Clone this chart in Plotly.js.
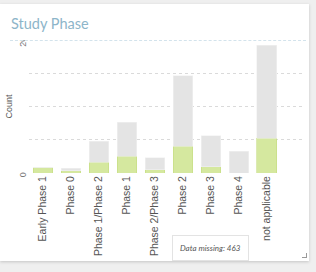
<!DOCTYPE html>
<html>
<head>
<meta charset="utf-8">
<script src="https://cdn.plot.ly/plotly-3.0.1.min.js"></script>
<style>
  html, body { margin: 0; padding: 0; width: 316px; height: 272px; background: #efefef; overflow: hidden; }
  #card { position: absolute; left: 0; top: 4px; width: 309px; height: 257px; background: #fff;
          box-shadow: 0 1px 3px rgba(0,0,0,0.18); }
  #title { position: absolute; left: 11px; top: 11px; font-family: Lato, "Open Sans", sans-serif;
           font-size: 14.5px; color: #8db5c9; }
  #sep { position: absolute; left: 10px; top: 36px; width: 296px; border-top: 1px dashed #d3e3ec; z-index: 2; }
  #clip { position: absolute; left: 0; top: 36px; width: 309px; height: 221px; overflow: hidden; }
  #chart { position: absolute; left: 0; top: -10px; width: 309px; height: 231px; }
  #grip { position: absolute; right: 2px; bottom: 3px; width: 4px; height: 4px;
          border-right: 1px solid #999; border-bottom: 1px solid #999; }
</style>
</head>
<body>
<div id="card">
  <div id="title">Study Phase</div>
  <div id="clip"><div id="chart"></div></div>
  <div id="sep"></div>
  <div id="grip"></div>
</div>
<script>
const categories = ["Early Phase 1", "Phase 0", "Phase 1/Phase 2", "Phase 1", "Phase 2/Phase 3",
                    "Phase 2", "Phase 3", "Phase 4", "not applicable"];
const greenValues = [0.8, 0.35, 1.6, 2.5, 0.5, 4.0, 0.95, 0, 5.2];
const grayValues  = [0, 0.35, 3.15, 5.1, 1.8, 10.6, 4.65, 3.3, 14.0];
const yTickVals = [0, 5, 10, 15, 20];
const yTickText = ["0", "", "", "", "20"];
const missingText = "Data missing: 463";

const traces = [
  { type: "bar", x: categories, y: greenValues, marker: { color: "#d5e89f", line: { color: "#c4dc80", width: 0.6 } },
    hoverinfo: "skip" },
  { type: "bar", x: categories, y: grayValues, marker: { color: "#e4e4e4", line: { color: "#f2f2f2", width: 0.6 } },
    hoverinfo: "skip" }
];

const layout = {
  width: 309, height: 231,
  margin: { l: 29, r: 4, t: 10, b: 88 },
  barmode: "stack",
  bargap: 0.29,
  showlegend: false,
  paper_bgcolor: "rgba(0,0,0,0)",
  plot_bgcolor: "rgba(0,0,0,0)",
  font: { family: "Liberation Sans, Arial, sans-serif", color: "#555" },
  xaxis: {
    type: "category",
    range: [-0.5, 9.36],
    tickangle: -90,
    tickfont: { size: 10.5, color: "#555" },
    showgrid: false, zeroline: false, showline: false, ticks: ""
  },
  yaxis: {
    range: [0, 20],
    tickvals: yTickVals, ticktext: yTickText,
    tickangle: -90,
    ticklabelshift: 3,
    tickfont: { size: 9, color: "#777" },
    showgrid: true, gridcolor: "#dadada", griddash: "3px,3px",
    zeroline: false, showline: false, ticks: "",
    title: { text: "Count", font: { size: 9, color: "#555" }, standoff: 4 }
  },
  annotations: [{
    xref: "paper", yref: "paper", x: 0.656, y: -0.665,
    text: "<i>" + missingText + "</i>", showarrow: false,
    font: { size: 8, color: "#555", family: "Lato, Liberation Sans, sans-serif" },
    bordercolor: "#e3e3e3", borderwidth: 1, borderpad: 7, bgcolor: "#fff"
  }]
};

Plotly.newPlot("chart", traces, layout, { displayModeBar: false, staticPlot: true });
</script>
</body>
</html>
